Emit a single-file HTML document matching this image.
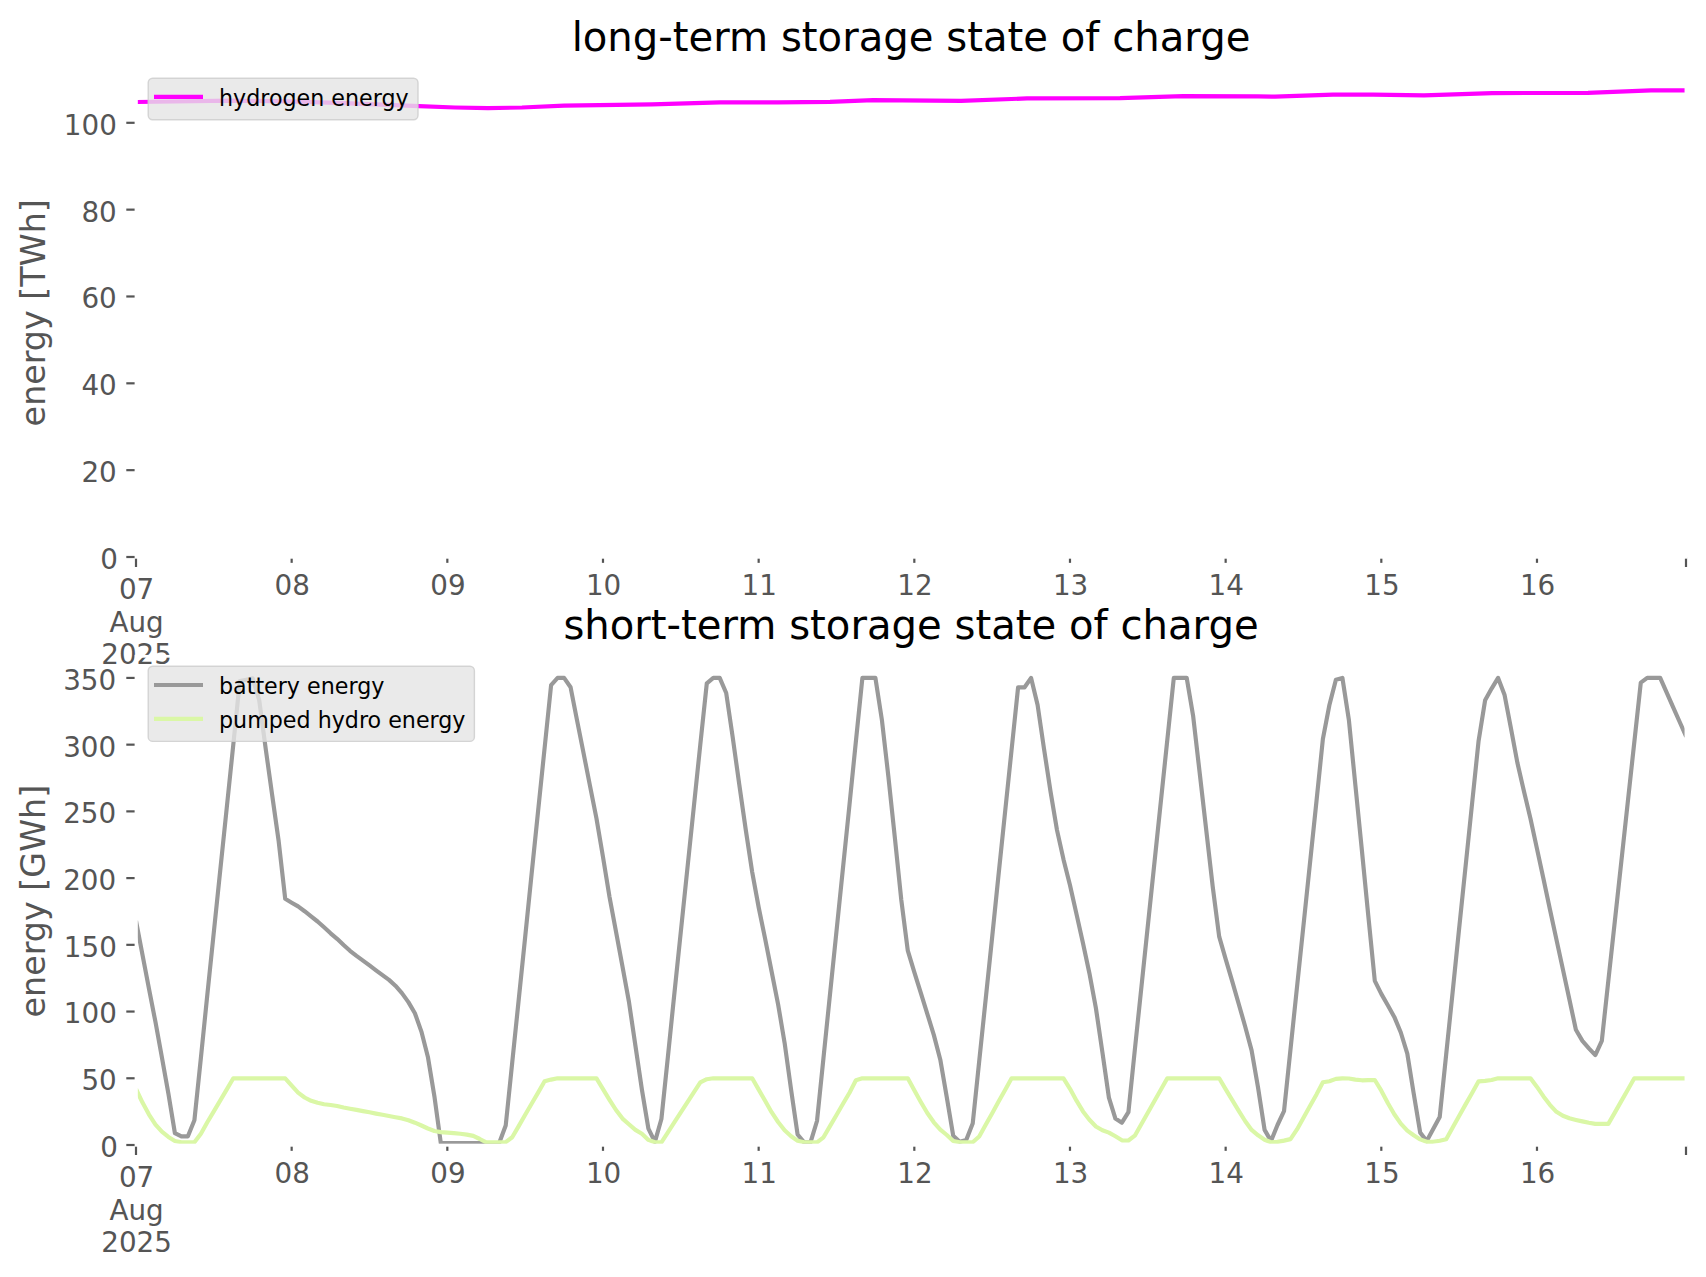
<!DOCTYPE html>
<html lang="en"><head><meta charset="utf-8"><title>storage state of charge</title>
<style>html,body{margin:0;padding:0;background:#fff}svg{display:block}text{font-family:'DejaVu Sans','Liberation Sans',sans-serif}</style></head><body>
<svg width="1706" height="1277" viewBox="0 0 1706 1277">
<rect width="1706" height="1277" fill="#fff"/>
<defs><clipPath id="c1"><rect x="137.7" y="68.3" width="1547.2" height="488.99999999999994"/></clipPath>
<clipPath id="c2"><rect x="137.7" y="656.3" width="1547.2" height="487.4"/></clipPath></defs>
<polyline clip-path="url(#c1)" fill="none" stroke="#ff00ff" stroke-width="4.17" stroke-linejoin="round" points="136,102.0 231,100.7 288,101.3 344,103.2 419,106.1 455,107.5 488,108.1 522,107.5 564,105.7 652,104.4 720,102.4 778,102.4 830,101.8 873,100.1 961,100.9 1027,98.4 1120,98.1 1183,96.1 1258,96.4 1275,96.6 1333,94.6 1373,94.6 1424,95.4 1492,93.1 1588,92.8 1651,90.3 1686,90.3"/>
<line x1="126.3" x2="136.0" y1="557.00" y2="557.00" stroke="#555555" stroke-width="2.2"/>
<line x1="126.3" x2="136.0" y1="470.16" y2="470.16" stroke="#555555" stroke-width="2.2"/>
<line x1="126.3" x2="136.0" y1="383.32" y2="383.32" stroke="#555555" stroke-width="2.2"/>
<line x1="126.3" x2="136.0" y1="296.48" y2="296.48" stroke="#555555" stroke-width="2.2"/>
<line x1="126.3" x2="136.0" y1="209.64" y2="209.64" stroke="#555555" stroke-width="2.2"/>
<line x1="126.3" x2="136.0" y1="122.80" y2="122.80" stroke="#555555" stroke-width="2.2"/>
<line x1="136.0" x2="136.0" y1="557.3" y2="567.00" stroke="#555555" stroke-width="2.2"/>
<line x1="1686.0" x2="1686.0" y1="557.3" y2="567.00" stroke="#555555" stroke-width="2.2"/>
<line x1="291.66" x2="291.66" y1="557.3" y2="562.85" stroke="#555555" stroke-width="2.2"/>
<line x1="447.33" x2="447.33" y1="557.3" y2="562.85" stroke="#555555" stroke-width="2.2"/>
<line x1="602.99" x2="602.99" y1="557.3" y2="562.85" stroke="#555555" stroke-width="2.2"/>
<line x1="758.66" x2="758.66" y1="557.3" y2="562.85" stroke="#555555" stroke-width="2.2"/>
<line x1="914.32" x2="914.32" y1="557.3" y2="562.85" stroke="#555555" stroke-width="2.2"/>
<line x1="1069.98" x2="1069.98" y1="557.3" y2="562.85" stroke="#555555" stroke-width="2.2"/>
<line x1="1225.65" x2="1225.65" y1="557.3" y2="562.85" stroke="#555555" stroke-width="2.2"/>
<line x1="1381.31" x2="1381.31" y1="557.3" y2="562.85" stroke="#555555" stroke-width="2.2"/>
<line x1="1536.98" x2="1536.98" y1="557.3" y2="562.85" stroke="#555555" stroke-width="2.2"/>
<rect x="136.0" y="68.3" width="1550.0" height="488.99999999999994" fill="none" stroke="#fff" stroke-width="2.78"/>
<text x="117.8" y="569" font-size="27.78" fill="#555555" text-anchor="end">0</text>
<text x="116.8" y="482" font-size="27.78" fill="#555555" text-anchor="end">20</text>
<text x="116.8" y="395" font-size="27.78" fill="#555555" text-anchor="end">40</text>
<text x="116.8" y="308" font-size="27.78" fill="#555555" text-anchor="end">60</text>
<text x="116.8" y="222" font-size="27.78" fill="#555555" text-anchor="end">80</text>
<text x="116.8" y="135" font-size="27.78" fill="#555555" text-anchor="end">100</text>
<text x="292.26" y="595" font-size="27.78" fill="#555555" text-anchor="middle">08</text>
<text x="447.93" y="595" font-size="27.78" fill="#555555" text-anchor="middle">09</text>
<text x="603.59" y="595" font-size="27.78" fill="#555555" text-anchor="middle">10</text>
<text x="759.26" y="595" font-size="27.78" fill="#555555" text-anchor="middle">11</text>
<text x="914.92" y="595" font-size="27.78" fill="#555555" text-anchor="middle">12</text>
<text x="1070.58" y="595" font-size="27.78" fill="#555555" text-anchor="middle">13</text>
<text x="1226.25" y="595" font-size="27.78" fill="#555555" text-anchor="middle">14</text>
<text x="1381.91" y="595" font-size="27.78" fill="#555555" text-anchor="middle">15</text>
<text x="1537.58" y="595" font-size="27.78" fill="#555555" text-anchor="middle">16</text>
<text x="136.60" y="599" font-size="27.78" fill="#555555" text-anchor="middle">07</text>
<text x="136.60" y="632" font-size="27.78" fill="#555555" text-anchor="middle">Aug</text>
<text x="136.60" y="664" font-size="27.78" fill="#555555" text-anchor="middle">2025</text>
<text transform="translate(44.8,312.80) rotate(-90)" font-size="33.33" fill="#555555" text-anchor="middle">energy [TWh]</text>
<text x="911.00" y="50.70" font-size="40.17" fill="#000" text-anchor="middle">long-term storage state of charge</text>
<rect x="148.2" y="78.2" width="269.8" height="41.5" rx="4.5" fill="#e5e5e5" fill-opacity="0.8" stroke="#cccccc" stroke-opacity="0.8" stroke-width="1.4"/>
<line x1="154" x2="203" y1="96.8" y2="96.8" stroke="#ff00ff" stroke-width="4.17"/>
<text x="219.0" y="105.6" font-size="22.2" fill="#000">hydrogen energy</text>
<g clip-path="url(#c2)" fill="none" stroke-width="4.17" stroke-linejoin="round">
<polyline stroke="#999999" points="136.0,920.8 142.5,954.8 149.0,988.9 155.5,1022.2 161.9,1057.3 168.4,1093.6 174.9,1133.1 181.4,1136.3 187.9,1136.3 194.4,1120.3 200.9,1057.7 207.3,995.0 213.8,932.4 220.3,869.8 226.8,807.4 233.3,744.6 239.8,681.0 246.3,679.7 252.7,678.3 259.2,700.1 265.7,748.7 272.2,795.4 278.7,841.4 285.2,898.8 291.7,902.7 298.1,906.4 304.6,911.2 311.1,916.4 317.6,921.5 324.1,927.3 330.6,933.3 337.1,938.8 343.6,945.0 350.0,950.8 356.5,955.9 363.0,960.6 369.5,965.4 376.0,970.3 382.5,975.1 389.0,979.9 395.4,985.7 401.9,993.1 408.4,1002.1 414.9,1013.2 421.4,1031.6 427.9,1056.9 434.4,1096.3 440.8,1143.0 447.3,1143.0 453.8,1143.0 460.3,1143.0 466.8,1143.0 473.3,1143.0 479.8,1143.0 486.2,1143.0 492.7,1143.0 499.2,1143.0 505.7,1125.6 512.2,1062.7 518.7,999.8 525.2,936.8 531.6,874.0 538.1,811.0 544.6,748.1 551.1,685.1 557.6,677.9 564.1,677.9 570.6,687.3 577.0,720.1 583.5,752.9 590.0,785.8 596.5,818.6 603.0,857.0 609.5,896.8 616.0,931.7 622.5,966.6 628.9,1001.5 635.4,1045.6 641.9,1089.6 648.4,1128.7 654.9,1141.9 661.4,1119.0 667.9,1056.7 674.3,994.2 680.8,931.9 687.3,869.4 693.8,807.1 700.3,744.6 706.8,683.3 713.3,677.9 719.7,677.9 726.2,693.0 732.7,737.3 739.2,784.0 745.7,829.4 752.2,872.1 758.7,907.5 765.1,938.6 771.6,971.5 778.1,1004.3 784.6,1042.8 791.1,1089.8 797.6,1134.5 804.1,1142.3 810.5,1142.3 817.0,1121.0 823.5,1057.7 830.0,994.3 836.5,931.1 843.0,867.8 849.5,804.6 855.9,741.2 862.4,677.9 868.9,677.9 875.4,677.9 881.9,720.0 888.4,776.7 894.9,838.1 901.3,900.0 907.8,950.7 914.3,972.2 920.8,992.9 927.3,1013.8 933.8,1034.9 940.3,1059.7 946.8,1097.4 953.2,1135.7 959.7,1141.7 966.2,1140.1 972.7,1123.6 979.2,1061.3 985.7,999.0 992.2,936.7 998.6,874.2 1005.1,811.9 1011.6,749.6 1018.1,687.3 1024.6,687.3 1031.1,677.9 1037.6,705.0 1044.0,748.7 1050.5,791.4 1057.0,830.1 1063.5,859.4 1070.0,885.2 1076.5,914.1 1083.0,943.2 1089.4,973.2 1095.9,1008.1 1102.4,1052.3 1108.9,1097.6 1115.4,1118.6 1121.9,1122.7 1128.4,1112.2 1134.8,1050.1 1141.3,988.1 1147.8,926.0 1154.3,864.0 1160.8,802.0 1167.3,740.0 1173.8,677.9 1180.2,677.9 1186.7,677.9 1193.2,716.4 1199.7,773.1 1206.2,829.7 1212.7,886.4 1219.2,936.7 1225.6,958.8 1232.1,980.9 1238.6,1003.5 1245.1,1026.2 1251.6,1050.4 1258.1,1087.9 1264.6,1129.9 1271.0,1141.0 1277.5,1125.0 1284.0,1111.2 1290.5,1049.2 1297.0,987.1 1303.5,925.1 1310.0,863.0 1316.5,801.0 1322.9,738.9 1329.4,705.0 1335.9,679.7 1342.4,677.9 1348.9,720.1 1355.4,785.4 1361.9,850.5 1368.3,915.7 1374.8,980.9 1381.3,993.9 1387.8,1005.3 1394.3,1016.9 1400.8,1032.5 1407.3,1053.6 1413.7,1093.5 1420.2,1132.6 1426.7,1141.0 1433.2,1129.0 1439.7,1117.0 1446.2,1054.3 1452.7,991.5 1459.1,928.8 1465.6,866.1 1472.1,803.4 1478.6,740.8 1485.1,700.3 1491.6,688.6 1498.1,677.9 1504.5,694.7 1511.0,728.6 1517.5,763.3 1524.0,791.5 1530.5,818.7 1537.0,848.9 1543.5,879.0 1549.9,909.2 1556.4,939.4 1562.9,969.4 1569.4,999.5 1575.9,1029.7 1582.4,1040.9 1588.9,1048.4 1595.3,1055.1 1601.8,1040.9 1608.3,981.1 1614.8,921.5 1621.3,861.7 1627.8,802.0 1634.3,742.2 1640.8,682.6 1647.2,677.9 1653.7,677.9 1660.2,677.9 1666.7,692.6 1673.2,707.3 1679.7,722.0 1686.2,736.6"/>
<polyline stroke="#daf7a6" points="136.0,1089.0 142.5,1102.6 149.0,1114.6 155.5,1124.6 161.9,1131.7 168.4,1136.9 174.9,1141.0 181.4,1142.3 187.9,1142.3 194.4,1142.3 200.9,1133.7 207.3,1122.3 213.8,1111.4 220.3,1100.4 226.8,1089.4 233.3,1078.3 239.8,1078.3 246.3,1078.3 252.7,1078.3 259.2,1078.3 265.7,1078.3 272.2,1078.3 278.7,1078.3 285.2,1078.3 291.7,1085.6 298.1,1092.6 304.6,1097.5 311.1,1100.8 317.6,1102.8 324.1,1104.2 330.6,1105.0 337.1,1106.0 343.6,1107.5 350.0,1108.7 356.5,1109.9 363.0,1111.1 369.5,1112.3 376.0,1113.6 382.5,1114.8 389.0,1116.0 395.4,1117.2 401.9,1118.4 408.4,1120.3 414.9,1122.7 421.4,1125.5 427.9,1128.5 434.4,1131.0 440.8,1132.1 447.3,1132.6 453.8,1133.1 460.3,1133.8 466.8,1134.6 473.3,1135.9 479.8,1139.0 486.2,1142.3 492.7,1142.3 499.2,1142.3 505.7,1142.1 512.2,1137.3 518.7,1126.1 525.2,1114.8 531.6,1103.8 538.1,1092.6 544.6,1081.3 551.1,1079.6 557.6,1078.3 564.1,1078.3 570.6,1078.3 577.0,1078.3 583.5,1078.3 590.0,1078.3 596.5,1078.3 603.0,1089.1 609.5,1099.8 616.0,1110.0 622.5,1118.6 628.9,1124.3 635.4,1129.9 641.9,1133.8 648.4,1139.9 654.9,1142.3 661.4,1142.3 667.9,1132.3 674.3,1122.3 680.8,1112.3 687.3,1102.3 693.8,1092.3 700.3,1082.3 706.8,1079.2 713.3,1078.3 719.7,1078.3 726.2,1078.3 732.7,1078.3 739.2,1078.3 745.7,1078.3 752.2,1078.3 758.7,1089.6 765.1,1100.8 771.6,1112.2 778.1,1122.0 784.6,1130.3 791.1,1136.2 797.6,1140.7 804.1,1142.3 810.5,1142.3 817.0,1142.3 823.5,1137.3 830.0,1126.1 836.5,1115.0 843.0,1103.8 849.5,1092.7 855.9,1080.3 862.4,1078.3 868.9,1078.3 875.4,1078.3 881.9,1078.3 888.4,1078.3 894.9,1078.3 901.3,1078.3 907.8,1078.3 914.3,1090.3 920.8,1101.9 927.3,1113.0 933.8,1122.3 940.3,1129.7 946.8,1135.0 953.2,1141.0 959.7,1142.3 966.2,1142.3 972.7,1142.3 979.2,1136.5 985.7,1124.8 992.2,1113.2 998.6,1101.6 1005.1,1089.9 1011.6,1078.3 1018.1,1078.3 1024.6,1078.3 1031.1,1078.3 1037.6,1078.3 1044.0,1078.3 1050.5,1078.3 1057.0,1078.3 1063.5,1078.3 1070.0,1088.8 1076.5,1100.7 1083.0,1111.4 1089.4,1119.8 1095.9,1126.5 1102.4,1130.3 1108.9,1132.6 1115.4,1136.3 1121.9,1140.3 1128.4,1140.5 1134.8,1135.7 1141.3,1124.2 1147.8,1112.7 1154.3,1101.2 1160.8,1089.8 1167.3,1078.3 1173.8,1078.3 1180.2,1078.3 1186.7,1078.3 1193.2,1078.3 1199.7,1078.3 1206.2,1078.3 1212.7,1078.3 1219.2,1078.3 1225.6,1089.1 1232.1,1099.9 1238.6,1110.7 1245.1,1121.0 1251.6,1129.9 1258.1,1135.3 1264.6,1139.7 1271.0,1142.3 1277.5,1141.9 1284.0,1140.6 1290.5,1139.1 1297.0,1129.4 1303.5,1117.8 1310.0,1106.0 1316.5,1094.4 1322.9,1082.3 1329.4,1081.2 1335.9,1078.9 1342.4,1078.3 1348.9,1078.5 1355.4,1079.6 1361.9,1080.3 1368.3,1080.1 1374.8,1080.0 1381.3,1090.7 1387.8,1103.0 1394.3,1114.2 1400.8,1123.6 1407.3,1130.6 1413.7,1135.3 1420.2,1139.4 1426.7,1141.8 1433.2,1141.8 1439.7,1140.7 1446.2,1139.3 1452.7,1127.4 1459.1,1115.9 1465.6,1104.4 1472.1,1093.0 1478.6,1081.3 1485.1,1080.9 1491.6,1080.0 1498.1,1078.3 1504.5,1078.3 1511.0,1078.3 1517.5,1078.3 1524.0,1078.3 1530.5,1078.3 1537.0,1086.9 1543.5,1096.4 1549.9,1104.8 1556.4,1111.8 1562.9,1115.8 1569.4,1118.3 1575.9,1119.9 1582.4,1121.4 1588.9,1122.8 1595.3,1123.9 1601.8,1123.9 1608.3,1123.9 1614.8,1112.6 1621.3,1101.1 1627.8,1089.8 1634.3,1078.3 1640.8,1078.3 1647.2,1078.3 1653.7,1078.3 1660.2,1078.3 1666.7,1078.3 1673.2,1078.3 1679.7,1078.3 1686.2,1078.3"/></g>
<line x1="126.3" x2="136.0" y1="1145.00" y2="1145.00" stroke="#555555" stroke-width="2.2"/>
<line x1="126.3" x2="136.0" y1="1078.28" y2="1078.28" stroke="#555555" stroke-width="2.2"/>
<line x1="126.3" x2="136.0" y1="1011.55" y2="1011.55" stroke="#555555" stroke-width="2.2"/>
<line x1="126.3" x2="136.0" y1="944.83" y2="944.83" stroke="#555555" stroke-width="2.2"/>
<line x1="126.3" x2="136.0" y1="878.10" y2="878.10" stroke="#555555" stroke-width="2.2"/>
<line x1="126.3" x2="136.0" y1="811.38" y2="811.38" stroke="#555555" stroke-width="2.2"/>
<line x1="126.3" x2="136.0" y1="744.65" y2="744.65" stroke="#555555" stroke-width="2.2"/>
<line x1="126.3" x2="136.0" y1="677.92" y2="677.92" stroke="#555555" stroke-width="2.2"/>
<line x1="136.0" x2="136.0" y1="1145.3" y2="1155.00" stroke="#555555" stroke-width="2.2"/>
<line x1="1686.0" x2="1686.0" y1="1145.3" y2="1155.00" stroke="#555555" stroke-width="2.2"/>
<line x1="291.66" x2="291.66" y1="1145.3" y2="1150.85" stroke="#555555" stroke-width="2.2"/>
<line x1="447.33" x2="447.33" y1="1145.3" y2="1150.85" stroke="#555555" stroke-width="2.2"/>
<line x1="602.99" x2="602.99" y1="1145.3" y2="1150.85" stroke="#555555" stroke-width="2.2"/>
<line x1="758.66" x2="758.66" y1="1145.3" y2="1150.85" stroke="#555555" stroke-width="2.2"/>
<line x1="914.32" x2="914.32" y1="1145.3" y2="1150.85" stroke="#555555" stroke-width="2.2"/>
<line x1="1069.98" x2="1069.98" y1="1145.3" y2="1150.85" stroke="#555555" stroke-width="2.2"/>
<line x1="1225.65" x2="1225.65" y1="1145.3" y2="1150.85" stroke="#555555" stroke-width="2.2"/>
<line x1="1381.31" x2="1381.31" y1="1145.3" y2="1150.85" stroke="#555555" stroke-width="2.2"/>
<line x1="1536.98" x2="1536.98" y1="1145.3" y2="1150.85" stroke="#555555" stroke-width="2.2"/>
<rect x="136.0" y="656.3" width="1550.0" height="489.0" fill="none" stroke="#fff" stroke-width="2.78"/>
<text x="117.8" y="1157" font-size="27.78" fill="#555555" text-anchor="end">0</text>
<text x="116.8" y="1090" font-size="27.78" fill="#555555" text-anchor="end">50</text>
<text x="116.8" y="1023" font-size="27.78" fill="#555555" text-anchor="end">100</text>
<text x="116.8" y="957" font-size="27.78" fill="#555555" text-anchor="end">150</text>
<text x="116.2" y="890" font-size="27.78" fill="#555555" text-anchor="end">200</text>
<text x="116.2" y="823" font-size="27.78" fill="#555555" text-anchor="end">250</text>
<text x="116.2" y="757" font-size="27.78" fill="#555555" text-anchor="end">300</text>
<text x="116.2" y="690" font-size="27.78" fill="#555555" text-anchor="end">350</text>
<text x="292.26" y="1183" font-size="27.78" fill="#555555" text-anchor="middle">08</text>
<text x="447.93" y="1183" font-size="27.78" fill="#555555" text-anchor="middle">09</text>
<text x="603.59" y="1183" font-size="27.78" fill="#555555" text-anchor="middle">10</text>
<text x="759.26" y="1183" font-size="27.78" fill="#555555" text-anchor="middle">11</text>
<text x="914.92" y="1183" font-size="27.78" fill="#555555" text-anchor="middle">12</text>
<text x="1070.58" y="1183" font-size="27.78" fill="#555555" text-anchor="middle">13</text>
<text x="1226.25" y="1183" font-size="27.78" fill="#555555" text-anchor="middle">14</text>
<text x="1381.91" y="1183" font-size="27.78" fill="#555555" text-anchor="middle">15</text>
<text x="1537.58" y="1183" font-size="27.78" fill="#555555" text-anchor="middle">16</text>
<text x="136.60" y="1187" font-size="27.78" fill="#555555" text-anchor="middle">07</text>
<text x="136.60" y="1220" font-size="27.78" fill="#555555" text-anchor="middle">Aug</text>
<text x="136.60" y="1252" font-size="27.78" fill="#555555" text-anchor="middle">2025</text>
<text transform="translate(44.8,901.10) rotate(-90)" font-size="33.33" fill="#555555" text-anchor="middle">energy [GWh]</text>
<text x="911.00" y="638.70" font-size="40.17" fill="#000" text-anchor="middle">short-term storage state of charge</text>
<rect x="148.2" y="666.2" width="326.2" height="75.2" rx="4.5" fill="#e5e5e5" fill-opacity="0.8" stroke="#cccccc" stroke-opacity="0.8" stroke-width="1.4"/>
<line x1="154" x2="203" y1="685" y2="685" stroke="#999999" stroke-width="4.17"/>
<line x1="154" x2="203" y1="718.8" y2="718.8" stroke="#daf7a6" stroke-width="4.17"/>
<text x="219.0" y="693.8" font-size="22.2" fill="#000">battery energy</text>
<text x="219.0" y="727.7" font-size="22.2" fill="#000">pumped hydro energy</text>
</svg></body></html>
